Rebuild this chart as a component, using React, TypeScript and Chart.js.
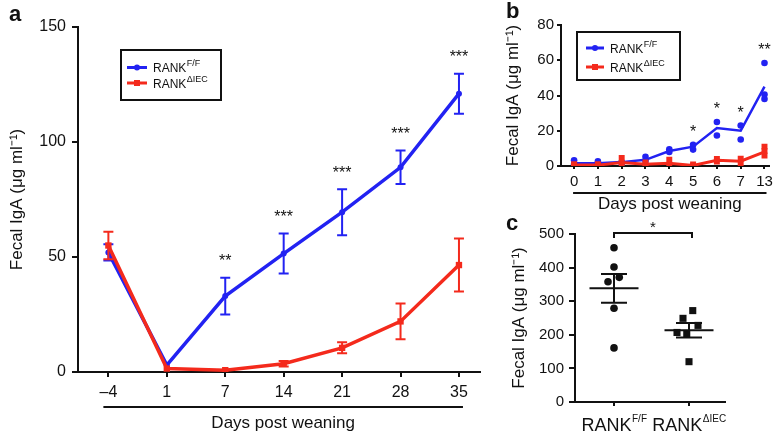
import React, { useEffect, useRef } from 'react';
import { Chart, registerables } from 'chart.js';
Chart.register(...registerables);

const FONT = '"Liberation Sans", Arial, Helvetica, sans-serif';
const BLUE = '#2222f2';
const RED = '#f42a1c';
const BLACK = '#111111';

// ---------- panel a ----------
const aDays = ['\u20134', '1', '7', '14', '21', '28', '35'];
const aFFMean = [52, 3, 33, 51.5, 69.5, 89, 121];
const aFFErr = [3.5, 0, 8, 8.7, 10, 7.3, 8.7];
const aIECMean = [55, 1.5, 0.8, 3.6, 10.5, 22, 46.5];
const aIECErr = [6, 0, 0, 1.2, 2.4, 7.8, 11.5];
const aStars = ['', '', '**', '***', '***', '***', '***'];

// ---------- panel b ----------
const bDays = ['0', '1', '2', '3', '4', '5', '6', '7', '13'];
const bFFMean = [1.5, 1.5, 2.2, 3.5, 8.5, 11, 21.5, 20, 45];
const bFFDots = [[3.2, 1], [2.6, 1], [2.2, 1.6], [5.2, 3], [9.5, 8], [12, 9.3], [25, 17.3], [23, 15], [58.4, 40.5, 38]];
const bIECMean = [0.5, 0.5, 2, 1, 1.5, 0.3, 3.3, 2.7, 8];
const bIECDots = [[1, 0], [1, 0], [4.5, 0.8], [2, 0.3], [3.6, 0.3], [0.8, 0], [4, 2.5], [4.2, 1.4], [11, 8.5, 6]];
const bStars = ['', '', '', '', '', '*', '*', '*', '**'];

// ---------- panel c ----------
const cGroups = ['F/F', '\u0394IEC'];
const cFF = [459, 402, 371, 358, 279, 161];
const cIEC = [272, 249, 228, 207, 204, 120];
const cFFJitter = [0, 0, 0.07, -0.08, 0, 0];
const cIECJitter = [0.05, -0.08, 0.12, -0.16, -0.03, 0];
const cStar = '*';

const yTitle = 'Fecal IgA (\u03bcg ml\u207b\u00b9)';
const xTitle = 'Days post weaning';

const meanOf = (a: number[]) => a.reduce((s, v) => s + v, 0) / a.length;
const semOf = (a: number[]) => {
  const m = meanOf(a);
  const v = a.reduce((s, x) => s + (x - m) * (x - m), 0) / (a.length - 1);
  return Math.sqrt(v / a.length);
};

function drawRank(ctx: CanvasRenderingContext2D, sup: string, x: number, y: number, size: number, supSize: number, center: boolean) {
  ctx.font = `${size}px ${FONT}`;
  const w1 = ctx.measureText('RANK').width;
  ctx.font = `${supSize}px ${FONT}`;
  const w2 = ctx.measureText(sup).width;
  const x0 = center ? x - (w1 + w2) / 2 : x;
  ctx.textAlign = 'left';
  ctx.textBaseline = 'alphabetic';
  ctx.fillStyle = BLACK;
  ctx.font = `${size}px ${FONT}`;
  ctx.fillText('RANK', x0, y);
  ctx.font = `${supSize}px ${FONT}`;
  ctx.fillText(sup, x0 + w1 + 0.5, y - size * 0.5);
}

function drawLegend(ctx: CanvasRenderingContext2D, bx: number, by: number, bw: number, bh: number, rows: { color: string; shape: string; sup: string; dy: number }[], fontSize: number, lineX0: number, lineX1: number, textX: number) {
  ctx.save();
  ctx.strokeStyle = BLACK;
  ctx.lineWidth = 2;
  ctx.strokeRect(bx, by, bw, bh);
  rows.forEach((r) => {
    const ly = by + r.dy;
    ctx.strokeStyle = r.color;
    ctx.fillStyle = r.color;
    ctx.lineWidth = 3;
    ctx.beginPath();
    ctx.moveTo(bx + lineX0, ly);
    ctx.lineTo(bx + lineX1, ly);
    ctx.stroke();
    const mx = bx + (lineX0 + lineX1) / 2;
    ctx.beginPath();
    if (r.shape === 'rect') ctx.rect(mx - 3, ly - 3, 6, 6);
    else ctx.arc(mx, ly, 3, 0, Math.PI * 2);
    ctx.fill();
    drawRank(ctx, r.sup, bx + textX, ly + fontSize * 0.38, fontSize, 9, false);
  });
  ctx.restore();
}

function axisBase(fontSize: number, tickLength: number, padding: number) {
  return {
    border: { display: true, color: BLACK, width: 2 },
    grid: { display: true, drawOnChartArea: false, drawTicks: true, tickLength, color: BLACK, lineWidth: 2 },
    ticks: { color: BLACK, font: { family: FONT, size: fontSize }, padding },
  };
}

function titleCfg(text: string, pad: number) {
  return { display: true, text, color: BLACK, font: { family: FONT, size: 17 }, padding: { top: pad, bottom: pad } };
}

const baseOpts = {
  responsive: false,
  animation: false,
  events: [],
  plugins: { legend: { display: false }, tooltip: { enabled: false } },
};

// ---------------- panel a config ----------------
function buildA() {
  const errPlugin = {
    id: 'aExtras',
    afterDatasetDraw(chart: any, args: any) {
      const ds = chart.data.datasets[args.index];
      if (!ds.err) return;
      const { ctx, scales } = chart;
      ctx.save();
      ctx.strokeStyle = ds.borderColor;
      ctx.lineWidth = 2;
      ds.data.forEach((p: any, i: number) => {
        const e = ds.err[i];
        if (!e) return;
        const px = scales.x.getPixelForValue(p.x);
        const y1 = scales.y.getPixelForValue(p.y + e);
        const y2 = scales.y.getPixelForValue(p.y - e);
        ctx.beginPath();
        ctx.moveTo(px, y1); ctx.lineTo(px, y2);
        ctx.moveTo(px - 5, y1); ctx.lineTo(px + 5, y1);
        ctx.moveTo(px - 5, y2); ctx.lineTo(px + 5, y2);
        ctx.stroke();
      });
      ctx.restore();
    },
    afterDraw(chart: any) {
      const { ctx, scales, chartArea } = chart;
      const { x, y } = scales;
      ctx.save();
      ctx.fillStyle = BLACK;
      ctx.font = `16px ${FONT}`;
      ctx.textAlign = 'center';
      ctx.textBaseline = 'middle';
      aStars.forEach((s, i) => {
        if (!s) return;
        const top = y.getPixelForValue(aFFMean[i] + aFFErr[i]);
        ctx.fillText(s, x.getPixelForValue(i), top - 16);
      });
      const x0 = x.getPixelForValue(0) - 5;
      const x1 = x.getPixelForValue(aDays.length - 1) + 4;
      ctx.strokeStyle = BLACK;
      ctx.lineWidth = 2;
      ctx.beginPath();
      ctx.moveTo(x0, chartArea.bottom + 35);
      ctx.lineTo(x1, chartArea.bottom + 35);
      ctx.stroke();
      ctx.font = `17px ${FONT}`;
      ctx.textBaseline = 'alphabetic';
      ctx.fillText(xTitle, (x0 + x1) / 2, chartArea.bottom + 56);
      ctx.font = `bold 22px ${FONT}`;
      ctx.textAlign = 'left';
      ctx.fillText('a', 9, 21);
      ctx.restore();
      drawLegend(ctx, chartArea.left + 43, chartArea.top + 23, 100, 50, [
        { color: BLUE, shape: 'circle', sup: 'F/F', dy: 17.5 },
        { color: RED, shape: 'rect', sup: '\u0394IEC', dy: 33 },
      ], 12, 6, 26, 32);
    },
  };
  return {
    type: 'line',
    data: {
      datasets: [
        {
          data: aIECMean.map((v, i) => ({ x: i, y: v })), err: aIECErr,
          borderColor: RED, backgroundColor: RED, borderWidth: 3.5,
          pointStyle: 'rect', pointRadius: 4.5, pointBorderWidth: 0, tension: 0,
        },
        {
          data: aFFMean.map((v, i) => ({ x: i, y: v })), err: aFFErr,
          borderColor: BLUE, backgroundColor: BLUE, borderWidth: 3.5,
          pointStyle: 'circle', pointRadius: 3, pointBorderWidth: 0, tension: 0,
        },
      ],
    },
    options: {
      ...baseOpts,
      layout: { padding: { left: 0, top: 27, right: 297, bottom: 0 } },
      scales: {
        x: {
          type: 'linear', min: -0.52, max: 6.36,
          ...axisBase(16, 5, 6),
          ticks: { ...axisBase(16, 5, 6).ticks, callback: (v: number) => aDays[v] ?? '' },
          afterBuildTicks: (s: any) => { s.ticks = aDays.map((_, i) => ({ value: i })); },
          afterFit: (s: any) => { s.height = 64; },
        },
        y: {
          min: 0, max: 150,
          ...axisBase(16, 6, 6),
          ticks: { ...axisBase(16, 6, 6).ticks, stepSize: 50 },
          title: titleCfg(yTitle, 7),
          afterFit: (s: any) => { s.width = 78; },
        },
      },
    },
    plugins: [errPlugin],
  };
}

// ---------------- panel b config ----------------
function buildB() {
  const plug = {
    id: 'bExtras',
    afterDraw(chart: any) {
      const { ctx, scales, chartArea } = chart;
      const { x, y } = scales;
      ctx.save();
      ctx.fillStyle = BLACK;
      ctx.font = `16px ${FONT}`;
      ctx.textAlign = 'center';
      ctx.textBaseline = 'middle';
      bStars.forEach((s, i) => {
        if (!s) return;
        const top = y.getPixelForValue(Math.max(...bFFDots[i]));
        ctx.fillText(s, x.getPixelForValue(i), top - 12);
      });
      const x0 = x.getPixelForValue(0) - 1;
      const x1 = x.getPixelForValue(bDays.length - 1) + 2;
      ctx.strokeStyle = BLACK;
      ctx.lineWidth = 2;
      ctx.beginPath();
      ctx.moveTo(x0, chartArea.bottom + 27);
      ctx.lineTo(x1, chartArea.bottom + 27);
      ctx.stroke();
      ctx.font = `17px ${FONT}`;
      ctx.textBaseline = 'alphabetic';
      ctx.fillText(xTitle, (x0 + x1) / 2, chartArea.bottom + 43);
      ctx.font = `bold 22px ${FONT}`;
      ctx.textAlign = 'left';
      ctx.fillText('b', 506, 18);
      ctx.restore();
      drawLegend(ctx, chartArea.left + 16, chartArea.top + 7, 103, 48, [
        { color: BLUE, shape: 'circle', sup: 'F/F', dy: 16 },
        { color: RED, shape: 'rect', sup: '\u0394IEC', dy: 35 },
      ], 12, 9, 27, 33);
    },
  };
  const dots = (arr: number[][]) => arr.flatMap((vals, i) => vals.map((v) => ({ x: i, y: v })));
  return {
    type: 'line',
    data: {
      datasets: [
        { data: dots(bIECDots), showLine: false, pointStyle: 'rect', pointRadius: 4.2, pointBorderWidth: 0, backgroundColor: RED, borderColor: RED },
        { data: bIECMean.map((v, i) => ({ x: i, y: v })), borderColor: RED, borderWidth: 3, pointRadius: 0, tension: 0 },
        { data: dots(bFFDots), showLine: false, pointStyle: 'circle', pointRadius: 3.3, pointBorderWidth: 0, backgroundColor: BLUE, borderColor: BLUE },
        { data: bFFMean.map((v, i) => ({ x: i, y: v })), borderColor: BLUE, borderWidth: 2.5, pointRadius: 0, tension: 0 },
      ],
    },
    options: {
      ...baseOpts,
      layout: { padding: { left: 500, top: 25, right: 7, bottom: 0 } },
      scales: {
        x: {
          type: 'linear', min: -0.55, max: 8.2,
          ...axisBase(15, 3, 4),
          ticks: { ...axisBase(15, 3, 4).ticks, callback: (v: number) => bDays[v] ?? '' },
          afterBuildTicks: (s: any) => { s.ticks = bDays.map((_, i) => ({ value: i })); },
          afterFit: (s: any) => { s.height = 270; },
        },
        y: {
          min: 0, max: 80,
          ...axisBase(15, 4, 3),
          ticks: { ...axisBase(15, 4, 3).ticks, stepSize: 20 },
          title: titleCfg(yTitle, 3),
          afterFit: (s: any) => { s.width = 61; },
        },
      },
    },
    plugins: [plug],
  };
}

// ---------------- panel c config ----------------
function buildC() {
  const groups = [cFF, cIEC];
  const plug = {
    id: 'cExtras',
    afterDatasetsDraw(chart: any) {
      const { ctx, scales, chartArea } = chart;
      const { x, y } = scales;
      ctx.save();
      ctx.strokeStyle = BLACK;
      ctx.lineWidth = 2;
      groups.forEach((g, i) => {
        const m = meanOf(g);
        const s = semOf(g);
        const px = x.getPixelForValue(i);
        const ym = y.getPixelForValue(m);
        const yh = y.getPixelForValue(m + s);
        const yl = y.getPixelForValue(m - s);
        ctx.beginPath();
        ctx.moveTo(px - 24.5, ym); ctx.lineTo(px + 24.5, ym);
        ctx.moveTo(px - 13, yh); ctx.lineTo(px + 13, yh);
        ctx.moveTo(px - 13, yl); ctx.lineTo(px + 13, yl);
        ctx.moveTo(px, yh); ctx.lineTo(px, yl);
        ctx.stroke();
      });
      const bx0 = x.getPixelForValue(0);
      const bx1 = x.getPixelForValue(1) + 3;
      const by = chartArea.top - 1;
      ctx.beginPath();
      ctx.moveTo(bx0, by + 5); ctx.lineTo(bx0, by); ctx.lineTo(bx1, by); ctx.lineTo(bx1, by + 5);
      ctx.stroke();
      ctx.fillStyle = BLACK;
      ctx.font = `15px ${FONT}`;
      ctx.textAlign = 'center';
      ctx.textBaseline = 'middle';
      ctx.fillText(cStar, (bx0 + bx1) / 2, by - 5);
      ctx.restore();
    },
    afterDraw(chart: any) {
      const { ctx, scales, chartArea } = chart;
      ctx.save();
      cGroups.forEach((g, i) => {
        drawRank(ctx, g, scales.x.getPixelForValue(i), chartArea.bottom + 29, 18, 10, true);
      });
      ctx.fillStyle = BLACK;
      ctx.font = `bold 22px ${FONT}`;
      ctx.textAlign = 'left';
      ctx.textBaseline = 'alphabetic';
      ctx.fillText('c', 506, 230);
      ctx.restore();
    },
  };
  return {
    type: 'scatter',
    data: {
      datasets: [
        { data: cFF.map((v, i) => ({ x: 0 + cFFJitter[i], y: v })), pointStyle: 'circle', pointRadius: 3.8, pointBorderWidth: 0, backgroundColor: BLACK },
        { data: cIEC.map((v, i) => ({ x: 1 + cIECJitter[i], y: v })), pointStyle: 'rect', pointRadius: 5, pointBorderWidth: 0, backgroundColor: BLACK },
      ],
    },
    options: {
      ...baseOpts,
      layout: { padding: { left: 500, top: 234, right: 52, bottom: 0 } },
      scales: {
        x: {
          type: 'linear', min: -0.52, max: 1.48,
          ...axisBase(15, 4, 3),
          ticks: { ...axisBase(15, 4, 3).ticks, display: false },
          afterBuildTicks: (s: any) => { s.ticks = cGroups.map((_, i) => ({ value: i })); },
          afterFit: (s: any) => { s.height = 34; },
        },
        y: {
          min: 0, max: 500,
          ...axisBase(15, 6, 5),
          ticks: { ...axisBase(15, 6, 5).ticks, stepSize: 100 },
          title: titleCfg(yTitle, 9),
          afterFit: (s: any) => { s.width = 75; },
        },
      },
    },
    plugins: [plug],
  };
}

function Panel({ build }: { build: () => any }) {
  const ref = useRef<HTMLCanvasElement>(null);
  useEffect(() => {
    const chart = new Chart(ref.current as HTMLCanvasElement, build());
    return () => chart.destroy();
  }, []);
  return (
    <canvas
      ref={ref}
      width={777}
      height={436}
      style={{ position: 'absolute', left: 0, top: 0, width: 777, height: 436 }}
    />
  );
}

export default function App() {
  return (
    <div style={{ position: 'absolute', left: 0, top: 0, width: 777, height: 436, background: '#ffffff', overflow: 'hidden' }}>
      <Panel build={buildA} />
      <Panel build={buildB} />
      <Panel build={buildC} />
    </div>
  );
}
